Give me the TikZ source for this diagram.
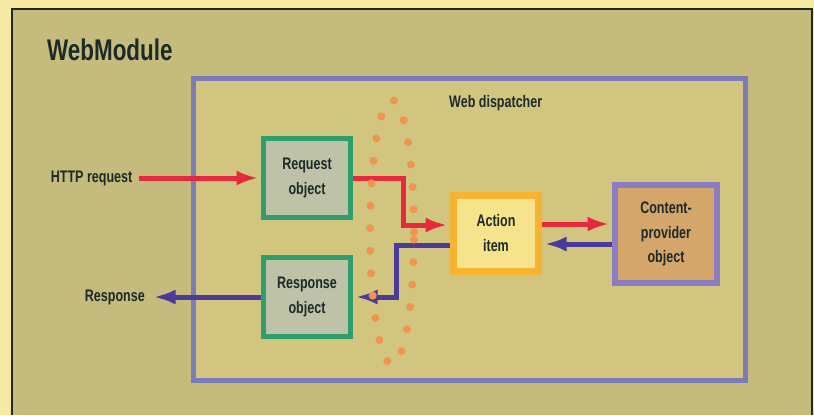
\documentclass[tikz,border=0pt]{standalone}
\usepackage{fontspec}
\setmainfont{Liberation Sans}[FakeStretch=0.75]
\usetikzlibrary{positioning,arrows.meta}
\definecolor{bgyellow}{HTML}{F6E9A2}
\definecolor{panelkhaki}{HTML}{C5BB7D}
\definecolor{framedark}{HTML}{1E2A22}
\definecolor{dispblue}{HTML}{7B7DBA}
\definecolor{dispfill}{HTML}{D2C57F}
\definecolor{boxgreen}{HTML}{2E9E6E}
\definecolor{boxgrey}{HTML}{BEC2A6}
\definecolor{actorange}{HTML}{F7B431}
\definecolor{actfill}{HTML}{F5E48B}
\definecolor{contpurple}{HTML}{8B7CC3}
\definecolor{contfill}{HTML}{D5A66A}
\definecolor{flowred}{HTML}{E62A3E}
\definecolor{flowblue}{HTML}{4A3B9A}
\definecolor{dotorange}{HTML}{F0954E}
\definecolor{ink}{HTML}{1C2A28}
\newcommand{\diafont}{\fontsize{9.5}{14}\selectfont\bfseries}
\tikzset{
  lbl/.style={font=\diafont, text=ink},
  objbox/.style={lbl, draw=boxgreen, fill=boxgrey, line width=0.1cm, minimum width=1.74cm, minimum height=1.58cm, align=center},
  actbox/.style={lbl, draw=actorange, fill=actfill, line width=0.14cm, minimum width=1.7cm, minimum height=1.52cm, align=center},
  contbox/.style={lbl, draw=contpurple, fill=contfill, line width=0.12cm, minimum width=2.04cm, minimum height=1.96cm, align=center},
  redflow/.style={->, draw=flowred, line width=0.1cm, shorten >=0.05cm},
  blueflow/.style={->, draw=flowblue, line width=0.1cm, shorten >=0.05cm}
}
\begin{document}
\begin{tikzpicture}[>={Latex[length=0.44cm,width=0.3cm]}]
  % 背景
  \fill[bgyellow] (0,0) rectangle (16.28,8.3);
  \useasboundingbox (0,0) rectangle (16.28,8.3);
  % 外枠 WebModule
  \fill[panelkhaki] (0.24,0) rectangle (16.24,8.12);
  \draw[framedark, line width=1.2pt] (0.24,0) -- (0.24,8.12) -- (16.24,8.12) -- (16.24,0);
  \node[anchor=west, text=ink, font=\fontsize{17}{20}\selectfont\bfseries] at (0.82,7.3) {WebModule};
  % Web dispatcher
  \draw[dispblue, fill=dispfill, line width=0.1cm] (3.86,0.7) rectangle (14.9,6.74);
  \node[lbl, anchor=west] at (8.86,6.24) {Web dispatcher};
  % オブジェクト
  \node[objbox] (req) at (6.14,4.74) {Request\\object};
  \node[objbox] (resp) at (6.14,2.36) {Response\\object};
  \node[actbox] (act) at (9.92,3.64) {Action\\item};
  \node[contbox] (cont) at (13.32,3.62) {Content-\\provider\\object};
  % 外側のラベル
  \node[lbl, left=2.45cm of req] (http) {HTTP request};
  \node[lbl, left=2.2cm of resp] (res) {Response};
  % 矢印
  \draw[redflow] (http) -- (req);
  \draw[redflow] (req.east) -- ++(1.0,0) |- ([yshift=0.16cm]act.west);
  \draw[blueflow] ([yshift=-0.24cm]act.west) -- ++(-1.07,0) |- (resp.east);
  \draw[blueflow] (resp) -- (res);
  \draw[redflow] ([yshift=0.18cm]act.east) -- ([yshift=0.18cm]act.east -| cont.west);
  \draw[blueflow] ([yshift=-0.22cm]act.east -| cont.west) -- ([yshift=-0.22cm]act.east);
  % 点線の楕円
  \draw[dotorange, line width=0.16cm, line cap=round, dash pattern=on 0pt off 0.45cm] (7.84,3.66) ellipse (0.44 and 2.64);
\end{tikzpicture}
\end{document}
